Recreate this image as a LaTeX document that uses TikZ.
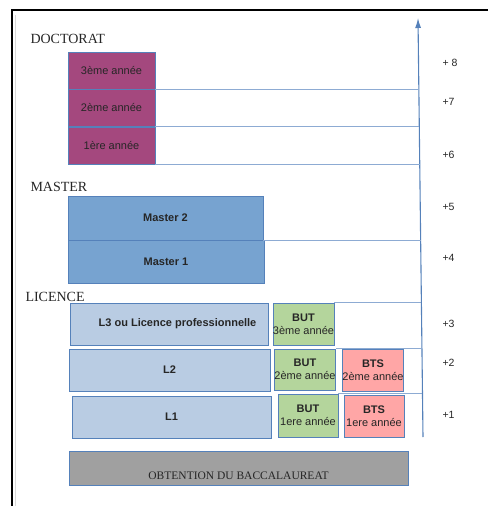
\documentclass[tikz,border=0pt]{standalone}
\usepackage{fontspec}
\setmainfont{Liberation Sans}
\newfontfamily\headfont{Liberation Serif}
\usetikzlibrary{calc,arrows.meta}

\definecolor{doctviolet}{HTML}{A4487E}
\definecolor{masterblue}{HTML}{77A3D0}
\definecolor{licblue}{HTML}{B9CCE3}
\definecolor{butgreen}{HTML}{B4D59C}
\definecolor{btspink}{HTML}{FFA6A6}
\definecolor{bacgray}{HTML}{A0A0A0}
\definecolor{edgeblue}{HTML}{5581BA}
\definecolor{gridblue}{HTML}{8DABD3}

\begin{document}
\begin{tikzpicture}[x=1pt, y=-1pt,
    box/.style={draw=edgeblue, line width=0.8pt, rectangle, inner sep=0pt, text=black!85,
      align=center, font=\fontsize{11}{13}\selectfont},
    boldbox/.style={box, font=\fontsize{11}{13}\selectfont\bfseries},
    title/.style={anchor=base west, text=black!85, font=\headfont\fontsize{14}{16}\selectfont},
    level/.style={anchor=west, text=black!85, font=\fontsize{10.5}{12}\selectfont},
    tick/.style={draw=gridblue, line width=1pt}]
    \useasboundingbox (0,0) rectangle (488,506);
    % page frame
    \draw[line width=1.3pt] (12,506) -- (12,10) -- (488,10);
    \draw[black!15, line width=1pt] (15.5,15) -- (15.5,506);

    % years axis
    \coordinate (axisbot) at (423,437);
    \coordinate (axistop) at (418,18);
    \draw[edgeblue, line width=1.1pt, -{Latex[length=10pt,width=6pt]}] (axisbot) -- (axistop);

    \node[title] (doct) at (27,43.5) {DOCTORAT};
    \node[title] (mast) at (27,191.5) {MASTER};
    \node[title] (lic) at (22,301.5) {LICENCE};

    \foreach \n/\txt/\y in {d3/3ème année/70.5, d2/2ème année/108, d1/1ère année/145.5}{
      \node[box, fill=doctviolet, minimum width=87pt, minimum height=37pt] (\n) at (111.5,\y) {\txt};
    }

    \node[boldbox, fill=masterblue, minimum width=195pt, minimum height=44pt] (m2) at (165.5,218) {Master 2};
    \node[boldbox, fill=masterblue, minimum width=196pt, minimum height=43pt] (m1) at (166,261.5) {Master 1};

    \node[boldbox, fill=licblue, minimum width=198pt, minimum height=42pt] (l3) at (169,324) {\hspace{17pt}L3 ou Licence professionnelle};
    \node[boldbox, fill=licblue, minimum width=201pt, minimum height=42pt] (l2) at (169.5,370) {L2};
    \node[boldbox, fill=licblue, minimum width=199pt, minimum height=42pt] (l1) at (171.5,417) {L1};

    \node[box, fill=butgreen, minimum width=61pt, minimum height=42pt] (but3) at (303.5,324) {\textbf{BUT}\\3ème année};
    \node[box, fill=butgreen, minimum width=60pt, minimum height=41pt] (but2) at (305,369.5) {\textbf{BUT}\\2ème année};
    \node[box, fill=butgreen, minimum width=60pt, minimum height=43pt] (but1) at (308,415.5) {\textbf{BUT}\\1ere année};

    \node[box, fill=btspink, minimum width=60pt, minimum height=42pt] (bts2) at (373,370) {\textbf{BTS}\\2ème année};
    \node[box, fill=btspink, minimum width=60pt, minimum height=42pt] (bts1) at (374,416) {\textbf{BTS}\\1ere année};

    \node[box, fill=bacgray, minimum width=339pt, minimum height=34pt, text height=22pt, text depth=0pt,
      font=\headfont\fontsize{11.5}{13}\selectfont] (bac) at (238.5,468) {OBTENTION DU BACCALAUREAT};

    % year separators, horizontal up to the axis
    \foreach \bx/\a in {d3/south east, d2/south east, d1/south east, m2/south east,
                        but3/north east, but2/north east, but1/north east}
      \draw[tick] let \p1=(\bx.\a), \p2=(axisbot), \p3=(axistop) in
        (\p1) -- ({\x2+(\x3-\x2)*(\y1-\y2)/(\y3-\y2)}, \y1);

    \foreach \lab/\y [count=\k] in {+ 8/63, +7/102, +6/155, +5/207, +4/258, +3/323.5, +2/363, +1/415}
      \node[level] (year\k) at (439,\y) {\lab};
  \end{tikzpicture}
\end{document}
